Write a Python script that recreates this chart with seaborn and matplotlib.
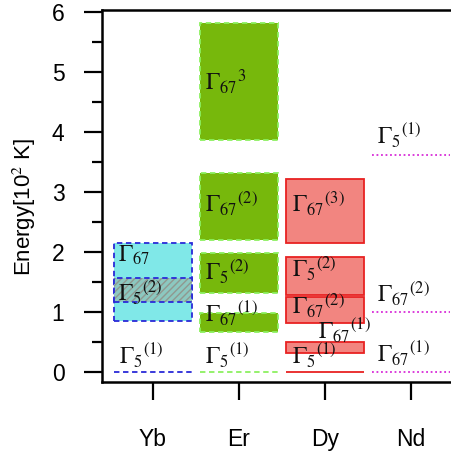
import matplotlib
matplotlib.use("Agg")
import matplotlib.pyplot as plt
import seaborn as sns

# categories on the x axis
ions = ["Yb", "Er", "Dy", "Nd"]

# crystal field levels drawn as boxes: ion, lower and upper energy [10^2 K]
box_ion = ["Yb", "Yb", "Er", "Er", "Er", "Er", "Dy", "Dy", "Dy", "Dy"]
box_lo = [0.85, 1.17, 3.87, 2.20, 1.32, 0.67, 2.15, 1.28, 0.82, 0.32]
box_hi = [2.15, 1.57, 5.82, 3.32, 1.98, 0.98, 3.22, 1.92, 1.25, 0.50]
box_hatched = [False, True, False, False, False, False, False, False, False, False]

# single levels drawn as lines
line_ion = ["Yb", "Er", "Dy", "Nd", "Nd", "Nd"]
line_e = [0.0, 0.0, 0.0, 3.62, 1.0, 0.0]

# level names and where they sit (x offset from ion, energy of baseline)
lab_ion = ["Yb", "Yb", "Yb", "Er", "Er", "Er", "Er", "Er",
           "Dy", "Dy", "Dy", "Dy", "Dy", "Nd", "Nd", "Nd"]
lab_text = [r"$\Gamma_{67}$", r"${\Gamma_{5}}^{(2)}$", r"${\Gamma_{5}}^{(1)}$",
            r"${\Gamma_{67}}^{3}$", r"${\Gamma_{67}}^{(2)}$", r"${\Gamma_{5}}^{(2)}$",
            r"${\Gamma_{67}}^{(1)}$", r"${\Gamma_{5}}^{(1)}$",
            r"${\Gamma_{67}}^{(3)}$", r"${\Gamma_{5}}^{(2)}$", r"${\Gamma_{67}}^{(2)}$",
            r"${\Gamma_{67}}^{(1)}$", r"${\Gamma_{5}}^{(1)}$",
            r"${\Gamma_{5}}^{(1)}$", r"${\Gamma_{67}}^{(2)}$", r"${\Gamma_{67}}^{(1)}$"]
lab_dx = [-0.41, -0.41, -0.40, -0.40, -0.40, -0.40, -0.40, -0.40,
          -0.38, -0.38, -0.38, -0.08, -0.38, -0.40, -0.40, -0.40]
lab_e = [1.83, 1.17, 0.13, 4.70, 2.65, 1.53, 0.82, 0.12,
         2.65, 1.57, 0.95, 0.53, 0.12, 3.78, 1.15, 0.15]

fill = {"Yb": "#80e8e8", "Er": "#77b80c", "Dy": "#f28580"}
edge = {"Yb": "#2a2ad8", "Er": "#8cf060", "Dy": "#e82222", "Nd": "#d82cd8"}
style = {"Yb": (0, (3, 2)), "Er": (0, (3, 2)), "Dy": "-", "Nd": (0, (1, 1.5))}

sns.set_theme(style="ticks")
plt.rcParams["font.family"] = ["Liberation Sans", "DejaVu Sans"]
plt.rcParams["mathtext.fontset"] = "stix"

fig = plt.figure(figsize=(4.52, 4.55), dpi=100)
ax = fig.add_axes([102 / 452, 73 / 455, 1 - 102 / 452, 372 / 455])

W = 0.9
pos = {name: i for i, name in enumerate(ions)}

for ion, lo, hi, hat in zip(box_ion, box_lo, box_hi, box_hatched):
    x = pos[ion]
    if hat:
        ax.bar(x, hi - lo, bottom=lo, width=W, color="#8cc8c0",
               hatch="/////", edgecolor="#909890", linewidth=0, zorder=3)
        ax.bar(x, hi - lo, bottom=lo, width=W, fill=False,
               edgecolor=edge[ion], linestyle=style[ion], linewidth=1.3, zorder=4)
    else:
        ax.bar(x, hi - lo, bottom=lo, width=W, color=fill[ion],
               edgecolor=edge[ion], linestyle=style[ion], linewidth=1.3, zorder=2)

for ion, e in zip(line_ion, line_e):
    x = pos[ion]
    ax.hlines(e, x - W / 2, x + W / 2, color=edge[ion],
              linestyle=style[ion], linewidth=1.3, zorder=2)

for ion, t, dx, e in zip(lab_ion, lab_text, lab_dx, lab_e):
    ax.text(pos[ion] + dx, e, t, fontsize=17, va="baseline", ha="left",
            color="#111111", zorder=5)

ax.set_xlim(-0.593, 3.477)
ax.set_ylim(-0.167, 6.03)
ax.set_xticks(range(len(ions)))
ax.set_xticklabels(ions)
ax.set_yticks(range(0, 7))
ax.set_yticks([v + 0.5 for v in range(0, 6)], minor=True)
ax.set_ylabel("Energy[10$^2$ K]", fontsize=16, color="black")
ax.yaxis.set_label_coords(-0.183, 0.47)
ax.tick_params(axis="both", which="major", length=13, width=1.6,
               labelsize=16.5, pad=14, color="black", labelcolor="black")
ax.tick_params(axis="y", which="minor", length=7, width=1.6, color="black")
ax.tick_params(axis="x", pad=20)
for s in ["left", "top", "bottom"]:
    ax.spines[s].set_linewidth(1.8)
    ax.spines[s].set_color("black")
ax.spines["right"].set_visible(False)

fig.savefig("out.png", dpi=100)
